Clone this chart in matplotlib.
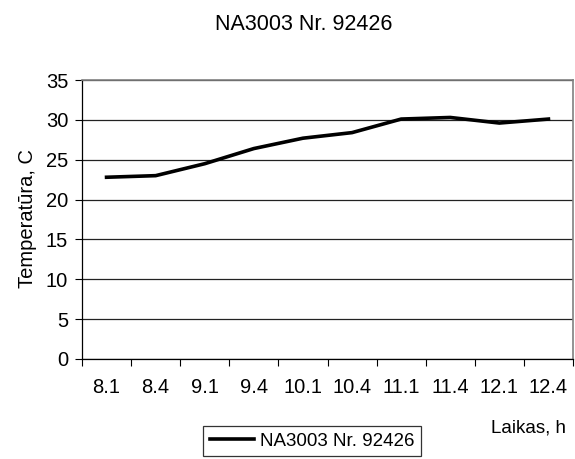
import matplotlib
matplotlib.use("Agg")
import matplotlib.pyplot as plt
from matplotlib.lines import Line2D

plt.rcParams['font.family'] = ['Liberation Sans', 'DejaVu Sans']

times = ["8.1", "8.4", "9.1", "9.4", "10.1", "10.4", "11.1", "11.4", "12.1", "12.4"]
temperature = [22.8, 23.0, 24.5, 26.4, 27.7, 28.4, 30.1, 30.3, 29.6, 30.1]
series_name = "NA3003 Nr. 92426"

FS = 14.5
W, H = 575, 459
fig = plt.figure(figsize=(W / 100, H / 100), dpi=100)
ax = fig.add_axes([82 / W, 1 - 359 / H, (573 - 82) / W, (359 - 80) / H])

x = list(range(len(times)))
ax.plot(x, temperature, color="black", lw=2.6, solid_joinstyle="round")

ax.set_xlim(-0.5, len(times) - 0.5)
ax.set_ylim(0, 35)
ax.set_yticks(range(0, 36, 5))
ax.set_xticks(x)
ax.set_xticklabels(times)
ax.set_xticks([i - 0.5 for i in range(len(times) + 1)], minor=True)
ax.tick_params(axis="x", which="major", length=0, pad=14, labelsize=FS)
ax.tick_params(axis="x", which="minor", length=5, width=0.8, color="black")
ax.tick_params(axis="y", length=5, width=0.8, labelsize=FS, pad=5)

ax.yaxis.grid(True, color="#222222", lw=0.9)
ax.set_axisbelow(True)
for s in ("left", "bottom"):
    ax.spines[s].set_color("black")
    ax.spines[s].set_linewidth(0.9)
for s in ("top", "right"):
    ax.spines[s].set_color("#808080")
    ax.spines[s].set_linewidth(1.2)

ax.set_ylabel("Temperatūra, C", fontsize=FS)
ax.yaxis.set_label_coords(37 / W, 1 - 219 / H, transform=fig.transFigure)
fig.text(304 / W, 1 - 24 / H, series_name, ha="center", va="center", fontsize=15.5)
fig.text(566 / W, 1 - 428 / H, "Laikas, h", ha="right", va="center", fontsize=13.5)

handle = Line2D([], [], color="black", lw=2.6)
leg = fig.legend([handle], [series_name], loc="upper left",
                 bbox_to_anchor=(203 / W, 1 - 426 / H), fontsize=13.5,
                 frameon=True, fancybox=False, borderpad=0.35,
                 handlelength=2.35, handletextpad=0.32, borderaxespad=0)
leg.get_frame().set_edgecolor("black")
leg.get_frame().set_linewidth(0.9)

fig.savefig("out.png", dpi=100)
